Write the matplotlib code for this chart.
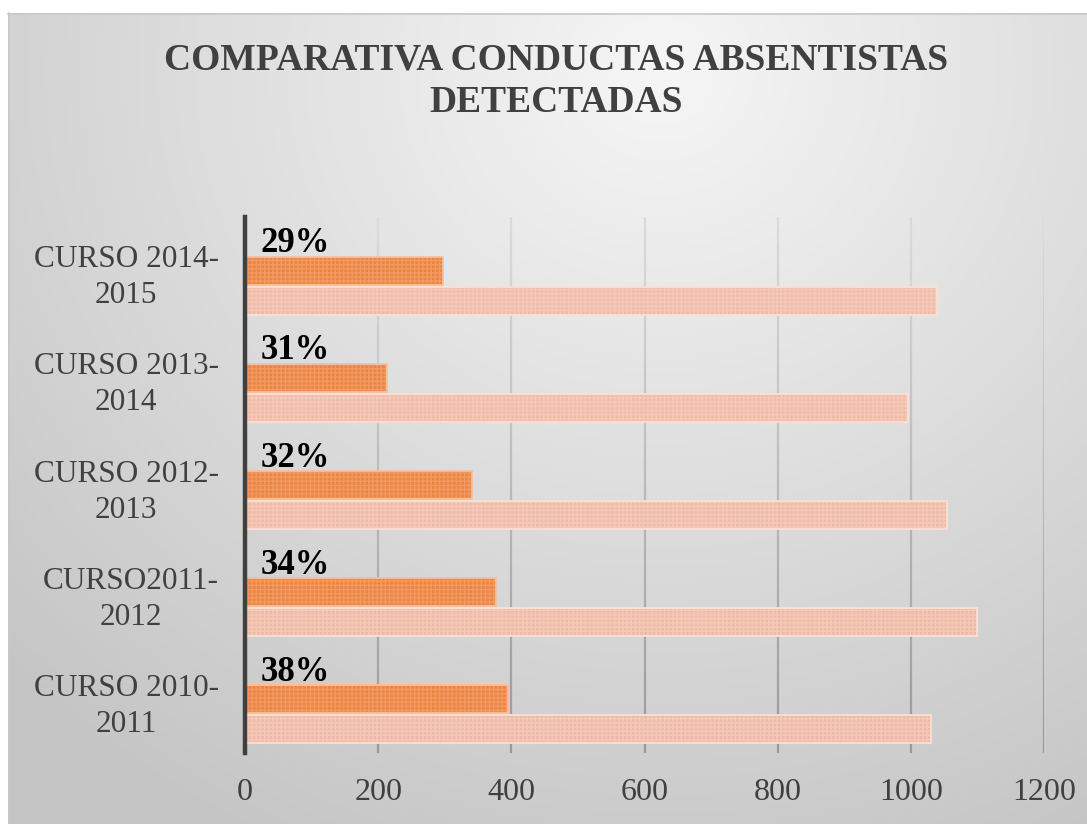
import numpy as np
import matplotlib
matplotlib.use("Agg")
import matplotlib.pyplot as plt
from matplotlib.collections import LineCollection

categories = ["CURSO 2010-\n2011", "CURSO2011-\n2012", "CURSO 2012-\n2013",
              "CURSO 2013-\n2014", "CURSO 2014-\n2015"]
detectadas = [395, 377, 341, 213, 297]
totales = [1031, 1099, 1055, 995, 1039]
porcentajes = ["38%", "34%", "32%", "31%", "29%"]
xticks = [0, 200, 400, 600, 800, 1000, 1200]
title = "COMPARATIVA CONDUCTAS ABSENTISTAS\nDETECTADAS"

W, H = 1087, 824
fig = plt.figure(figsize=(W / 100, H / 100), dpi=100)
fig.patch.set_facecolor("white")

# background gradient panel
bg = fig.add_axes([0, 0, 1, 1], zorder=0)
bg.set_xlim(0, W)
bg.set_ylim(H, 0)
bg.axis("off")
yy, xx = np.mgrid[13:H, 8:W]
d = np.sqrt(((xx - 660) / 1.0) ** 2 + ((yy - 70) / 0.95) ** 2)
t = np.clip(d / 900.0, 0, 1)
v = 0.965 - (0.965 - 0.775) * t ** 1.0
img = np.dstack([v, v, v])
bg.imshow(img, extent=[8, W, H, 13], aspect="auto", interpolation="bilinear")
bg.plot([8, W], [13.5, 13.5], color="#c8c8c8", lw=1.2)
bg.plot([8.5, 8.5], [13, H], color="#c8c8c8", lw=1.2)

serif = ["Liberation Serif", "DejaVu Serif"]

fig.text(556 / W, 1 - 42 / H, title, ha="center", va="top", fontsize=27,
         fontweight="bold", family=serif, color="#404040", linespacing=1.3)

ax = fig.add_axes([245 / W, 1 - 753 / H, (1044 - 245) / W, (753 - 217) / H], zorder=1)
ax.set_facecolor("none")
y = np.arange(len(categories))
h = 0.26

# gradient gridlines at x ticks
nseg = 40
segs, cols = [], []
ylo, yhi = -0.5, 4.5
edges = np.linspace(yhi, ylo, nseg + 1)
for xv in xticks[1:]:
    for k in range(nseg):
        segs.append([(xv, edges[k]), (xv, edges[k + 1])])
        f = (k + 0.5) / nseg
        g = 0.86 - (0.86 - 0.60) * f
        cols.append((g, g, g, 1.0))
ax.add_collection(LineCollection(segs, colors=cols, linewidths=1.6, zorder=1))

ax.barh(y - 0.28, totales, height=h, color="#f1b9a4", edgecolor="#f5cbbb",
        hatch="++++", linewidth=0, zorder=2, alpha=0.93)
ax.barh(y - 0.28, totales, height=h, color="none", edgecolor="#fbe0d4",
        linewidth=1.3, zorder=3)
ax.barh(y, detectadas, height=h, color="#ed8440", edgecolor="#f19a62",
        hatch="++++", linewidth=0, zorder=2)
ax.barh(y, detectadas, height=h, color="none", edgecolor="#f6c09c",
        linewidth=1.3, zorder=3)

for yi, lab in zip(y, porcentajes):
    ax.annotate(lab, xy=(0, yi + h / 2), xytext=(11, -2.5), textcoords="offset points",
                ha="left", va="bottom", fontsize=25, fontweight="bold",
                family=serif, color="black")

ax.set_xlim(0, 1200)
ax.set_ylim(ylo, yhi)
ax.set_xticks(xticks)
ax.set_xticklabels([str(v) for v in xticks], family=serif, fontsize=23, color="#404040")
ax.set_yticks(y)
ax.set_yticklabels(categories, family=serif, fontsize=22.5, color="#404040",
                   multialignment="center", linespacing=1.32)
ax.tick_params(axis="both", length=0)
ax.tick_params(axis="x", pad=18)
ax.tick_params(axis="y", pad=19)
for s in ["top", "right", "bottom"]:
    ax.spines[s].set_visible(False)
ax.spines["left"].set_color("#404040")
ax.spines["left"].set_linewidth(3.2)
ax.spines["left"].set_zorder(4)

fig.savefig("out.png", dpi=100)
